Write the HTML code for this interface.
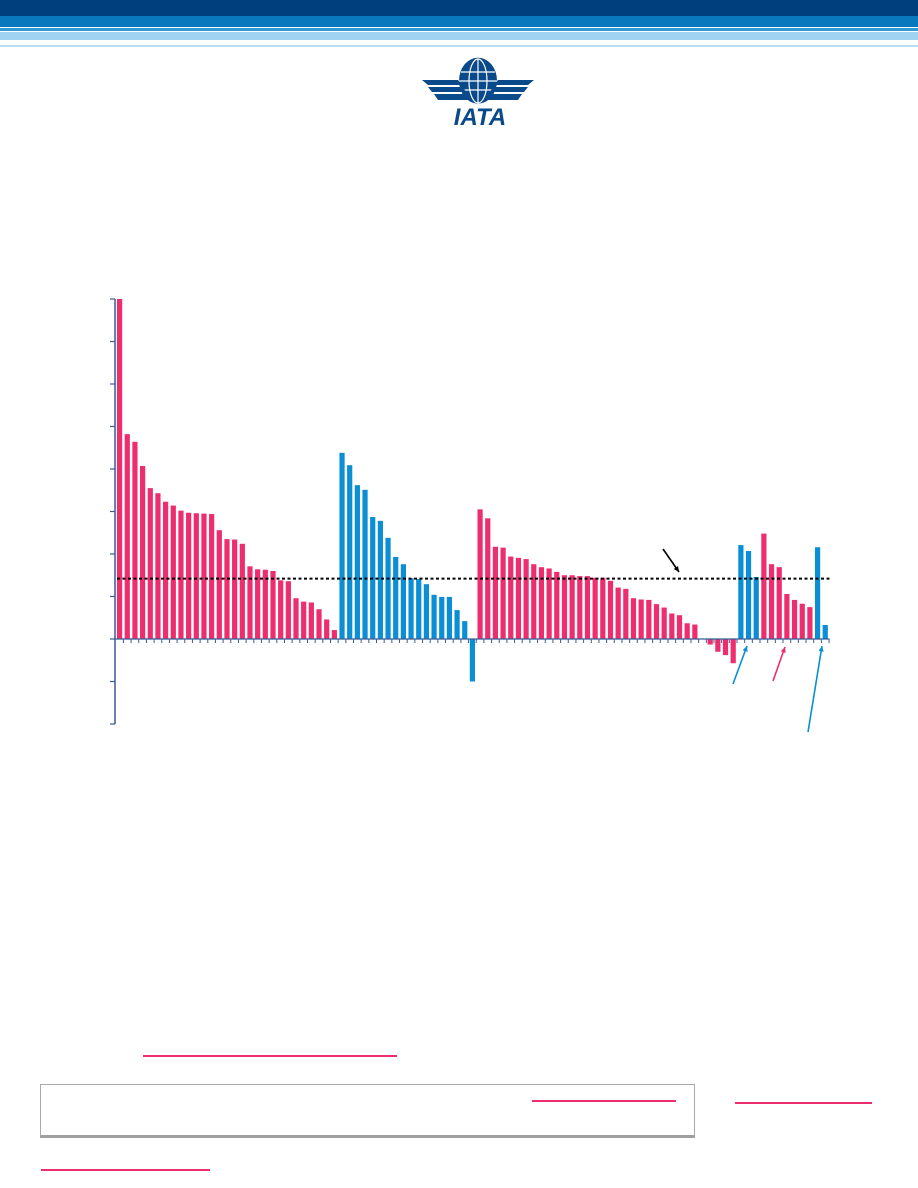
<!DOCTYPE html>
<html><head><meta charset="utf-8"><style>
html,body{margin:0;padding:0;background:#fff;}
body{width:918px;height:1188px;position:relative;overflow:hidden;font-family:"Liberation Sans",sans-serif;}
.abs{position:absolute;}
</style></head><body>
<div class="abs" style="left:0;top:0;width:918px;height:16px;background:#003f7d"></div>
<div class="abs" style="left:0;top:16px;width:918px;height:11px;background:#0a78bd"></div>
<div class="abs" style="left:0;top:28px;width:918px;height:3px;background:#2f9ad6"></div>
<div class="abs" style="left:0;top:32px;width:918px;height:8px;background:#9fd3f1"></div>
<div class="abs" style="left:0;top:45px;width:918px;height:2px;background:#b7def4"></div>

<svg class="abs" style="left:418px;top:56px" width="124" height="72" viewBox="0 0 124 72">
  <ellipse cx="60" cy="25" rx="19" ry="27" fill="#0a4a8a" transform="scale(1,0.85) translate(0,4)"/>
  <g stroke="#fff" stroke-width="1.2" fill="none">
    <line x1="60" y1="3" x2="60" y2="47"/>
    <ellipse cx="60" cy="25" rx="9" ry="22"/>
    <line x1="43" y1="16" x2="77" y2="16"/><line x1="41" y1="25" x2="79" y2="25"/><line x1="43" y1="34" x2="77" y2="34"/>
  </g>
  <g fill="#0a4a8a">
    <polygon points="4,24 40,24 44,29 10,29"/><polygon points="10,31 45,31 48,36 14,36"/><polygon points="16,38 46,38 50,44 20,44"/>
    <polygon points="116,24 80,24 76,29 110,29"/><polygon points="110,31 75,31 72,36 106,36"/><polygon points="104,38 74,38 70,44 100,44"/>
  </g>
  <text x="62" y="69" text-anchor="middle" font-family="Liberation Sans, sans-serif" font-weight="bold" font-style="italic" font-size="24" fill="#0a4a8a">IATA</text>
</svg>

<svg id="chart" class="abs" style="left:0;top:0" width="918" height="760"></svg>

<div class="abs" style="left:143px;top:1055px;width:254px;height:2px;background:#ee2d6e"></div>
<div class="abs" style="left:40px;top:1084px;width:653px;height:50px;border:1px solid #aaa;border-bottom:3px solid #a0a0a0"></div>
<div class="abs" style="left:532px;top:1100px;width:144px;height:2px;background:#ee2d6e"></div>
<div class="abs" style="left:735px;top:1102px;width:137px;height:2px;background:#ee2d6e"></div>
<div class="abs" style="left:41px;top:1169px;width:169px;height:2px;background:#ee2d6e"></div>

<script>
const values = [8.0,4.82,4.64,4.07,3.55,3.43,3.23,3.14,3.02,2.97,2.96,2.95,2.94,2.56,2.35,2.34,2.24,1.71,1.64,1.63,1.60,1.38,1.36,0.96,0.88,0.86,0.70,0.46,0.21,
4.38,4.09,3.62,3.51,2.87,2.78,2.38,1.93,1.76,1.43,1.41,1.29,1.04,0.99,0.99,0.68,0.42,-1.0,
3.05,2.84,2.17,2.15,1.94,1.91,1.88,1.76,1.69,1.66,1.58,1.50,1.50,1.48,1.48,1.44,1.44,1.37,1.21,1.18,0.96,0.93,0.92,0.82,0.74,0.60,0.56,0.37,0.34,
0,-0.13,-0.30,-0.38,-0.57,2.21,2.07,1.46,2.48,1.76,1.69,1.06,0.92,0.83,0.75,2.16,0.33];
const groups = "ppppppppppppppppppppppppppppp" + "bbbbbbbbbbbbbbbbbb" + "pppppppppppppppppppppppppppppppppp" + "bbb" + "ppppppp" + "bb";
const averageValue = 1.42;
const yTicks = [-2,-1,0,1,2,3,4,5,6,7,8];

const svg = document.getElementById('chart');
const NS = 'http://www.w3.org/2000/svg';
const x0 = 117, pitch = 7.67, barW = 5.2, zeroY = 639, unit = 42.5;
function xPos(i){ return x0 + i*pitch; }
function yPos(v){ return zeroY - v*unit; }
function mk(tag, attrs){ const e = document.createElementNS(NS, tag); for (const k in attrs) e.setAttribute(k, attrs[k]); svg.appendChild(e); return e; }

values.forEach((v,i)=>{
  if (v === 0) return;
  const y1 = yPos(Math.max(v,0)), y2 = yPos(Math.min(v,0));
  const r = mk('rect',{x:xPos(i),y:y1,width:barW,height:y2-y1,fill:groups[i]==='b'?'#0a8fd6':'#ee2d6e'});
  
  
});

const axis = mk('line',{x1:115,y1:yPos(8),x2:115,y2:yPos(-2),stroke:'#3a5a95','stroke-width':1.5});


yTicks.forEach(t=>{
  const tk = mk('line',{x1:110,y1:yPos(t),x2:115,y2:yPos(t),stroke:'#3a5a95','stroke-width':1.2});
  
  
});
const xa = mk('line',{x1:115,y1:zeroY,x2:xPos(values.length-1)+7,y2:zeroY,stroke:'#3a5a95','stroke-width':1.2});


values.forEach((v,i)=>{
  const tk = mk('line',{x1:xPos(i)+6.4,y1:zeroY,x2:xPos(i)+6.4,y2:zeroY+4,stroke:'#3a5a95','stroke-width':1});
  
  
});

const avg = mk('line',{x1:117,y1:yPos(averageValue),x2:832,y2:yPos(averageValue),stroke:'#000','stroke-width':2,'stroke-dasharray':'3,2.5'});



function arrow(x1,y1,x2,y2,col,name){
  const l = mk('line',{x1:x1,y1:y1,x2:x2,y2:y2,stroke:col,'stroke-width':1.6});
  
  
  const a = Math.atan2(y2-y1,x2-x1), s=6;
  const p = mk('polygon',{points:`${x2},${y2} ${x2-s*Math.cos(a-0.45)},${y2-s*Math.sin(a-0.45)} ${x2-s*Math.cos(a+0.45)},${y2-s*Math.sin(a+0.45)}`,fill:col});
  
  
}
arrow(663,549,679,572,'#000','average-arrow');
arrow(733,684,747,646,'#0a8fd6','blue-arrow-1');
arrow(773,681,785,647,'#ee2d6e','pink-arrow');
arrow(808,732,822,646,'#0a8fd6','blue-arrow-2');
</script>
</body></html>
